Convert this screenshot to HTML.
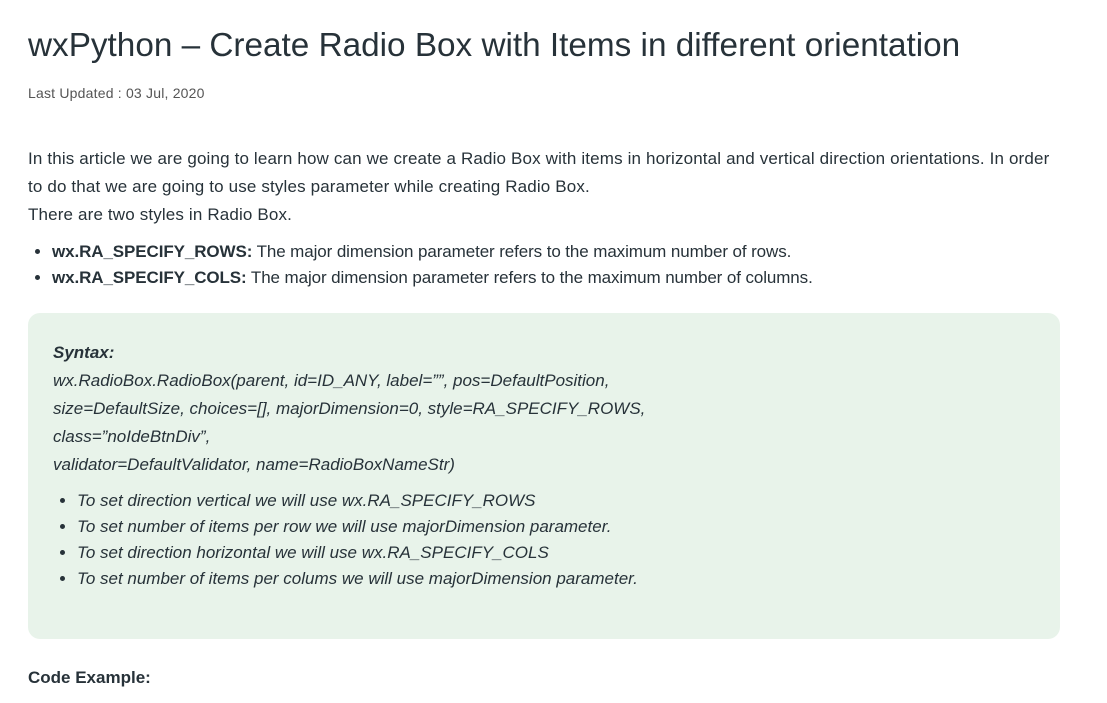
<!DOCTYPE html>
<html><head><style>
body{margin:0;background:#fff;font-family:"Liberation Sans",sans-serif;color:#273239;width:1107px;height:703px;overflow:hidden}
h1{position:absolute;left:28px;top:27px;margin:0;font-size:33.3px;font-weight:normal;letter-spacing:0px}
.upd{position:absolute;left:28px;top:85px;font-size:14px;color:#555;letter-spacing:0.2px}
.p{position:absolute;left:28px;top:145px;width:1025px;font-size:17px;line-height:28px}
.p .t{letter-spacing:0.15px}
ul{margin:10px 0 0;padding-left:24px;line-height:26px}
.p ul li{letter-spacing:-0.1px}
.box{position:absolute;left:28px;top:313px;width:1032px;height:326px;background:#e8f3ea;border-radius:12px;font-style:italic;font-size:17px}
.box .in{position:absolute;left:25px;top:26px;line-height:28px}
.box ul{line-height:26px;margin-top:9px}
.ce{position:absolute;left:28px;top:668px;font-weight:bold;font-size:17px}
</style></head><body>
<h1>wxPython – Create Radio Box with Items in different orientation</h1>
<div class="upd">Last Updated : 03 Jul, 2020</div>
<div class="p"><span class="t">In this article we are going to learn how can we create a Radio Box with items in horizontal and vertical direction orientations. In order<br>to do that we are going to use styles parameter while creating Radio Box.<br>There are two styles in Radio Box.</span>
<ul><li><b>wx.RA_SPECIFY_ROWS:</b> The major dimension parameter refers to the maximum number of rows.</li>
<li><b>wx.RA_SPECIFY_COLS:</b> The major dimension parameter refers to the maximum number of columns.</li></ul></div>
<div class="box"><div class="in"><b>Syntax:</b><br>wx.RadioBox.RadioBox(parent, id=ID_ANY, label=””, pos=DefaultPosition,<br>size=DefaultSize, choices=[], majorDimension=0, style=RA_SPECIFY_ROWS,<br>class=”noIdeBtnDiv”,<br>validator=DefaultValidator, name=RadioBoxNameStr)
<ul><li>To set direction vertical we will use wx.RA_SPECIFY_ROWS</li>
<li>To set number of items per row we will use majorDimension parameter.</li>
<li>To set direction horizontal we will use wx.RA_SPECIFY_COLS</li>
<li>To set number of items per colums we will use majorDimension parameter.</li></ul></div></div>
<div class="ce">Code Example:</div>
</body></html>
